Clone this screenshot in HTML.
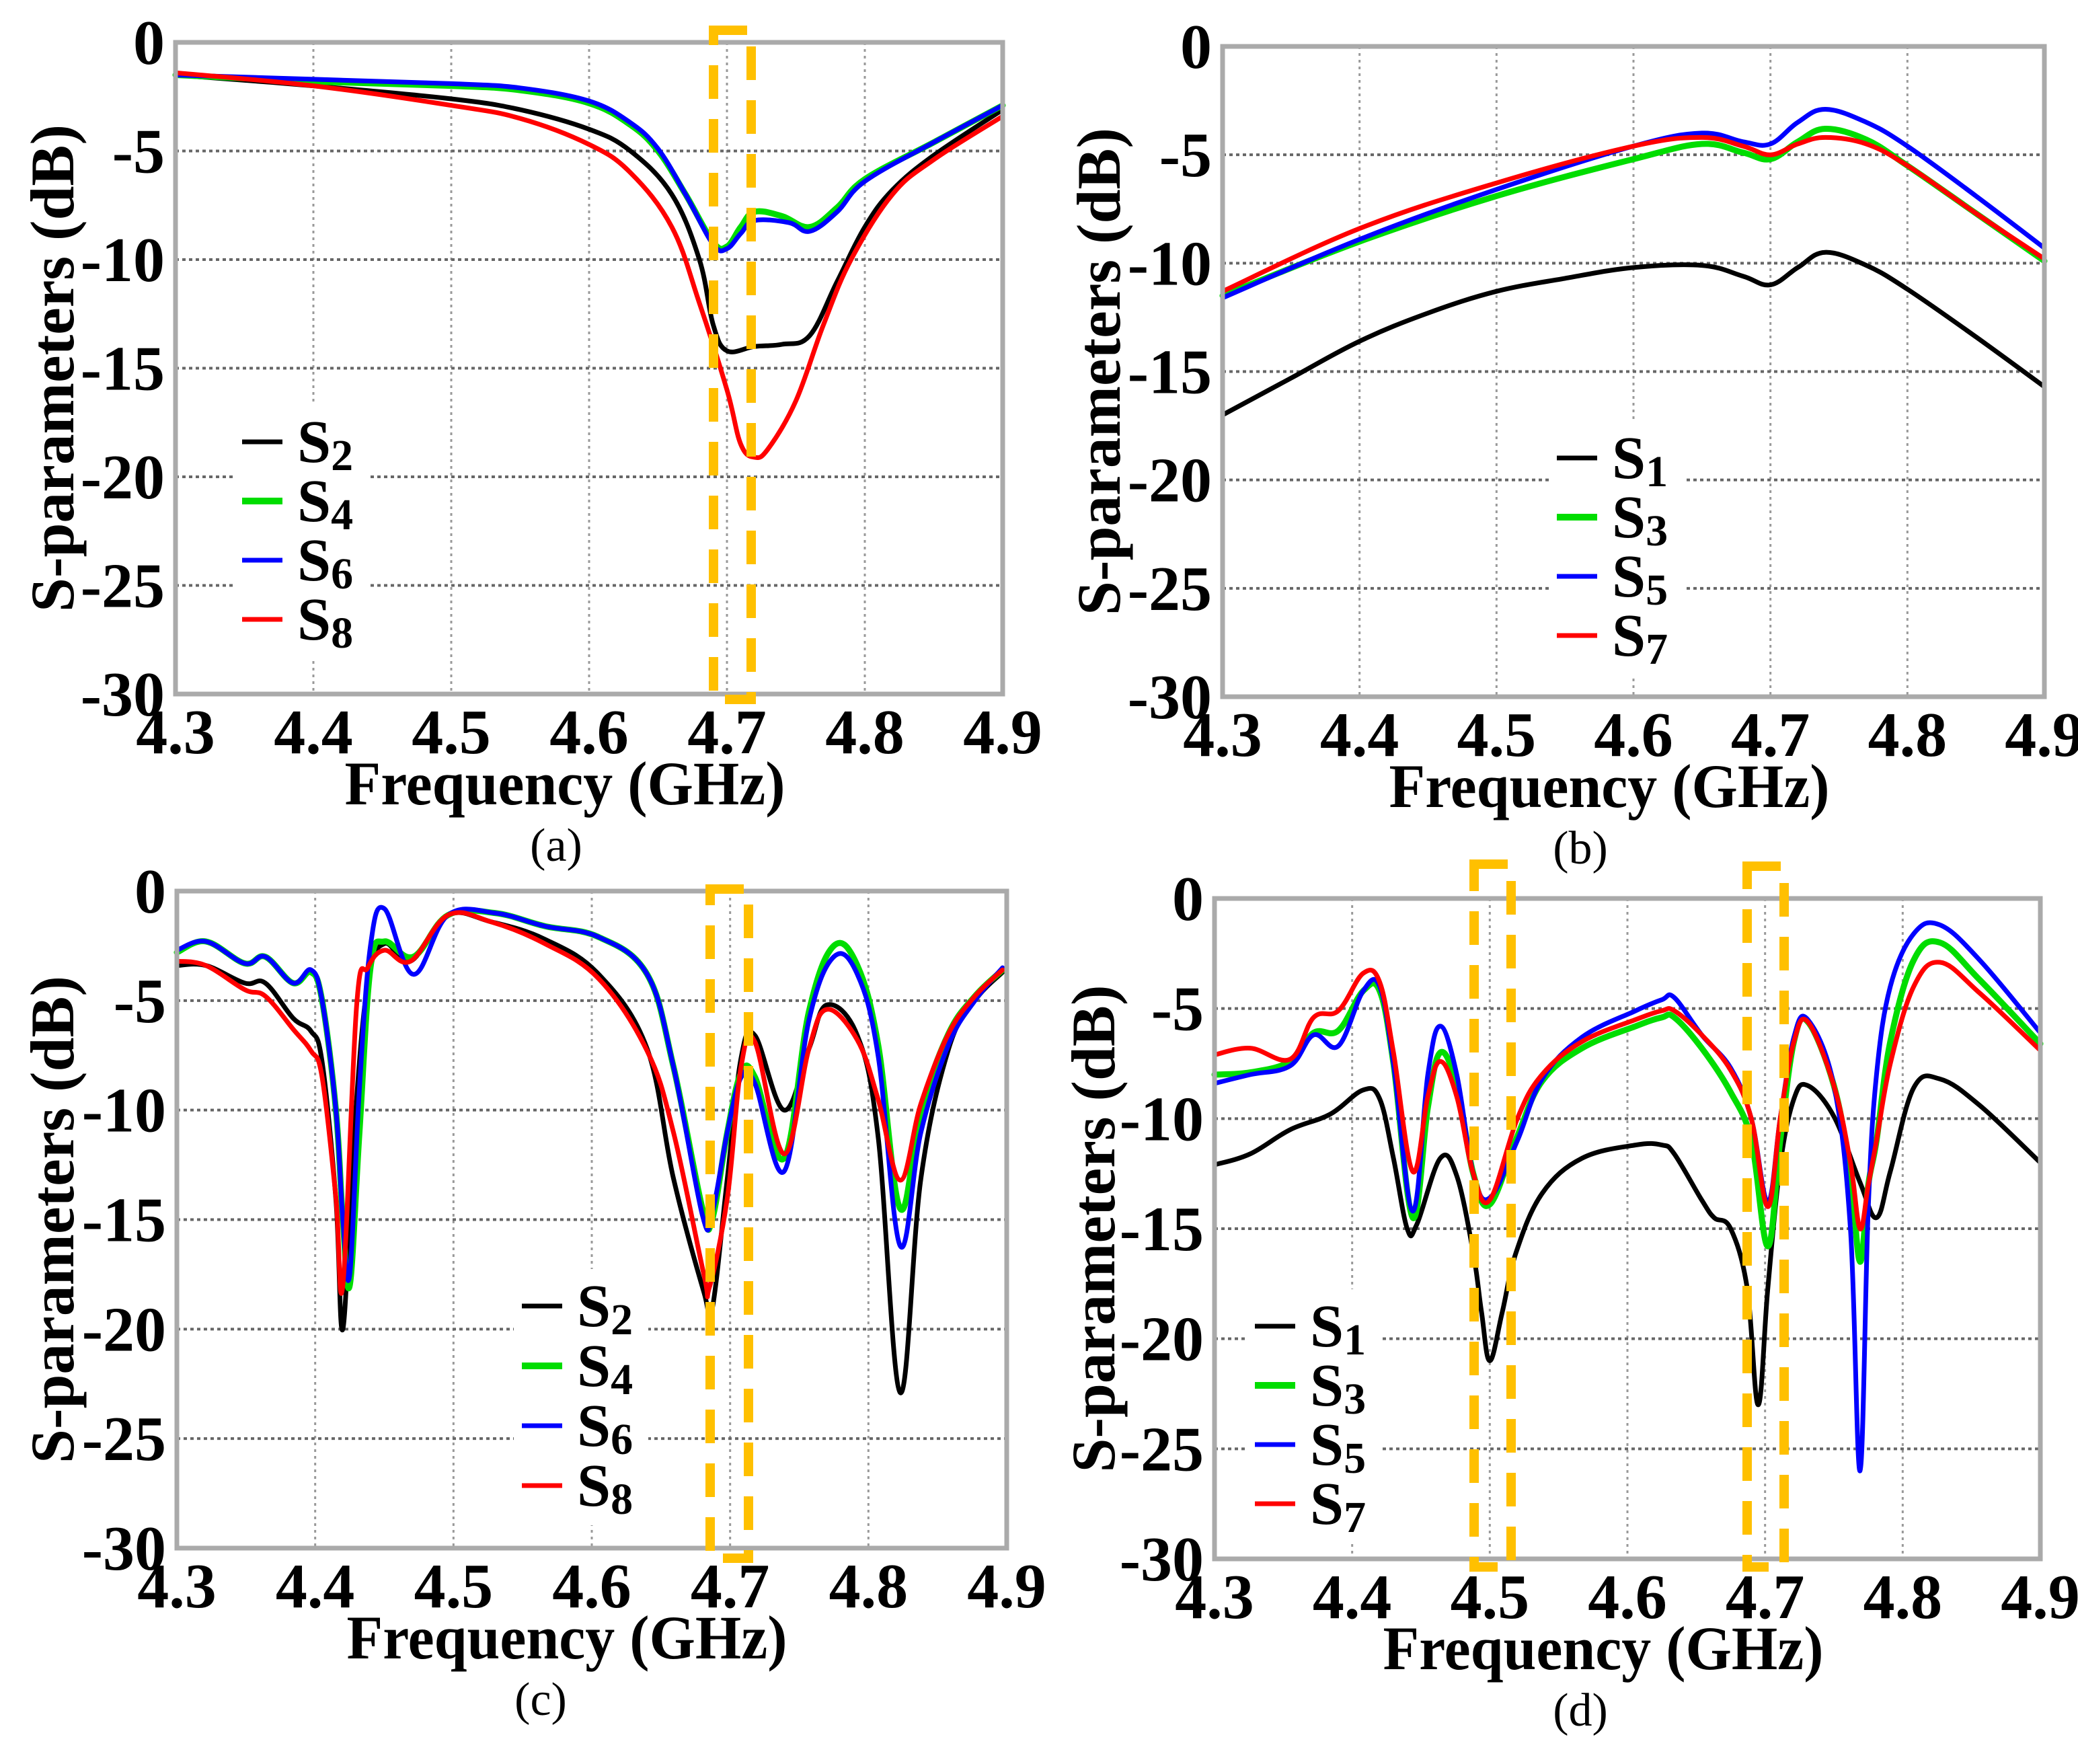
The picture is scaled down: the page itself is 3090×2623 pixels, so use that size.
<!DOCTYPE html>
<html><head><meta charset="utf-8"><style>
html,body{margin:0;padding:0;background:#fff;}
svg{display:block;}
text{font-family:"Liberation Serif",serif;}
</style></head><body>
<svg id="fig" width="3090" height="2623" viewBox="0 0 3090 2623" xmlns="http://www.w3.org/2000/svg"></svg>
<script>
// ---------- data ----------
const xTicks=[4.3,4.4,4.5,4.6,4.7,4.8,4.9];
const xTickLabels=["4.3","4.4","4.5","4.6","4.7","4.8","4.9"];
const yTicks=[0,-5,-10,-15,-20,-25,-30];
const yTickLabels=["0","-5","-10","-15","-20","-25","-30"];

// panel (a)
const aF2=[4.3,4.4,4.5,4.55,4.6,4.63,4.66,4.68,4.69,4.70,4.72,4.74,4.76,4.78,4.80,4.82,4.85,4.9];
const aS2=[-1.5,-2.0,-2.6,-3.1,-4.0,-5.0,-7,-10,-13,-14.2,-14.0,-13.9,-13.5,-11,-8.5,-6.8,-5.2,-3.1];
const aF4=[4.3,4.4,4.5,4.55,4.6,4.63,4.65,4.67,4.69,4.70,4.71,4.72,4.74,4.76,4.78,4.80,4.85,4.9];
const aS4=[-1.5,-1.8,-2.0,-2.2,-2.8,-3.8,-5,-7,-9.2,-9.4,-8.5,-7.8,-8.0,-8.5,-7.6,-6.3,-4.6,-2.9];
const aF6=[4.3,4.4,4.5,4.55,4.6,4.63,4.65,4.67,4.69,4.70,4.71,4.72,4.745,4.76,4.78,4.80,4.85,4.9];
const aS6=[-1.5,-1.7,-1.9,-2.1,-2.7,-3.7,-4.9,-7,-9.3,-9.5,-8.8,-8.2,-8.3,-8.7,-7.8,-6.4,-4.6,-2.9];
const aF8=[4.3,4.4,4.5,4.55,4.6,4.63,4.66,4.68,4.70,4.71,4.72,4.73,4.75,4.77,4.79,4.82,4.85,4.9];
const aS8=[-1.4,-2.0,-2.9,-3.5,-4.7,-6.0,-8.5,-12,-16,-18.5,-19.1,-18.7,-16.5,-13,-10,-7,-5.4,-3.4];

// panel (b)
const bF1=[4.3,4.35,4.4,4.45,4.5,4.55,4.6,4.65,4.68,4.7,4.72,4.74,4.77,4.8,4.85,4.9];
const bS1=[-17,-15.3,-13.6,-12.3,-11.3,-10.7,-10.2,-10.1,-10.6,-11.0,-10.2,-9.5,-10.1,-11.2,-13.4,-15.7];
const bF=[4.3,4.4,4.5,4.6,4.65,4.68,4.7,4.72,4.74,4.77,4.8,4.85,4.9];
const bS3=[-11.5,-9.0,-6.9,-5.2,-4.5,-4.9,-5.2,-4.4,-3.8,-4.3,-5.5,-7.7,-9.9];
const bS5=[-11.6,-8.9,-6.6,-4.6,-4.0,-4.4,-4.5,-3.5,-2.9,-3.5,-4.6,-6.9,-9.3];
const bS7=[-11.3,-8.4,-6.3,-4.6,-4.2,-4.6,-5.0,-4.5,-4.2,-4.5,-5.5,-7.7,-9.8];

// panel (c)
const cF2=[4.3,4.321,4.349,4.364,4.384,4.397,4.405,4.415,4.42,4.428,4.438,4.45,4.469,4.496,4.527,4.566,4.605,4.64,4.659,4.681,4.687,4.698,4.708,4.718,4.739,4.757,4.77,4.792,4.807,4.823,4.838,4.858,4.877,4.897];
const cS2=[-3.4,-3.4,-4.2,-4.2,-5.8,-6.4,-7.8,-14.1,-20,-11.2,-4.2,-2.4,-3.2,-1.1,-1.4,-2.2,-3.8,-7.2,-13.1,-18.3,-19.1,-13.1,-7.6,-6.6,-10,-7.2,-5.2,-6.6,-11.2,-22.9,-13.1,-7.2,-5,-3.7];
const cF8=[4.3,4.321,4.349,4.364,4.384,4.397,4.405,4.415,4.42,4.43,4.438,4.45,4.469,4.496,4.527,4.566,4.605,4.64,4.659,4.681,4.685,4.698,4.708,4.718,4.739,4.757,4.77,4.792,4.807,4.823,4.838,4.858,4.877,4.897];
const cS8=[-3.2,-3.4,-4.5,-4.8,-6.3,-7.3,-8.5,-14,-18,-5.2,-3.5,-2.7,-3.2,-1.1,-1.4,-2.4,-4.0,-7.3,-11,-17.5,-18.1,-14,-8,-6.9,-12,-7.2,-5.4,-6.8,-9.5,-13.2,-9.7,-6.5,-4.8,-3.6];
const cF=[4.3,4.321,4.349,4.364,4.384,4.397,4.405,4.415,4.42,4.425,4.432,4.44,4.45,4.471,4.496,4.53,4.566,4.605,4.64,4.659,4.68,4.687,4.698,4.708,4.718,4.739,4.757,4.775,4.792,4.807,4.823,4.838,4.858,4.877,4.897];
const cS4=[-2.8,-2.3,-3.3,-3.0,-4.2,-3.7,-5,-10,-15,-18,-11,-3.5,-2.3,-3.0,-1.1,-1.0,-1.6,-2.1,-3.8,-8,-14.5,-15,-11,-8.3,-8.5,-12.2,-5.5,-2.5,-3.4,-7,-14.5,-10,-6.5,-4.8,-3.6];
const cS6=[-2.7,-2.3,-3.3,-3.0,-4.2,-3.6,-5,-10,-15,-17.5,-9,-2.5,-0.8,-3.8,-1.1,-1.0,-1.6,-2.1,-3.8,-8,-14.8,-14.7,-11,-8.5,-8.8,-12.8,-5.9,-3.0,-3.8,-7.5,-16.2,-11,-7,-5,-3.5];

// panel (d)
const dF=[4.3,4.326,4.355,4.372,4.39,4.408,4.42,4.43,4.444,4.455,4.464,4.476,4.488,4.5,4.52,4.538,4.567,4.606,4.625,4.634,4.654,4.675,4.69,4.702,4.711,4.721,4.731,4.75,4.762,4.769,4.775,4.781,4.791,4.808,4.827,4.856,4.9];
const dS3=[-8.0,-7.9,-7.4,-6.1,-6.0,-4.2,-4.2,-7.5,-14.5,-9.5,-7,-8.5,-12.5,-13.9,-10.8,-8.3,-6.8,-5.8,-5.4,-5.4,-6.8,-8.8,-11,-15.8,-11,-6.5,-5.6,-8.5,-12.5,-16.5,-13,-11,-6.5,-2.8,-2.0,-3.7,-6.6];
const dS5=[-8.4,-8.0,-7.6,-6.2,-6.7,-4.2,-4.0,-7.5,-14.2,-8,-5.8,-8,-12.5,-13.6,-11,-8.2,-6.3,-5.1,-4.6,-4.5,-6.2,-7.7,-10,-13.8,-10,-6.3,-5.5,-8.5,-15,-26,-14,-8,-4,-1.6,-1.2,-2.8,-6.1];
const dS7=[-7.1,-6.8,-7.3,-5.4,-5.1,-3.4,-3.8,-7,-12.4,-9,-7.4,-9,-12.5,-13.7,-10,-8,-6.5,-5.5,-5.1,-5.1,-6.2,-7.8,-10,-14,-10,-6.5,-5.6,-8.5,-12,-15,-13,-11,-7.5,-4.0,-2.9,-4.3,-6.9];
const dF1=[4.3,4.326,4.355,4.384,4.408,4.42,4.43,4.44,4.447,4.464,4.476,4.488,4.494,4.5,4.509,4.519,4.538,4.567,4.606,4.625,4.634,4.654,4.663,4.675,4.687,4.695,4.702,4.711,4.721,4.731,4.75,4.769,4.781,4.791,4.808,4.827,4.856,4.9];
const dS1=[-12.1,-11.6,-10.5,-9.8,-8.7,-9.1,-11.8,-15.0,-14.8,-11.8,-12.6,-16.1,-18.8,-21,-18.8,-16.1,-13.4,-11.8,-11.2,-11.2,-11.6,-13.7,-14.5,-15,-17.7,-23,-17.7,-12.1,-9.1,-8.5,-9.9,-12.9,-14.5,-12.4,-8.6,-8.2,-9.4,-12];

// ---------- drawing ----------
const NS="http://www.w3.org/2000/svg";
const svg=document.getElementById('fig');
function mk(tag,attrs,parent){const e=document.createElementNS(NS,tag);for(const k in attrs)e.setAttribute(k,attrs[k]);(parent||svg).appendChild(e);return e;}
const COL={k:"#000",g:"#00dd00",b:"#0000ff",r:"#ff0000"};

function smoothPath(pts){
  let d='M'+pts[0][0].toFixed(1)+','+pts[0][1].toFixed(1);
  for(let i=0;i<pts.length-1;i++){
    const p0=pts[Math.max(0,i-1)],p1=pts[i],p2=pts[i+1],p3=pts[Math.min(pts.length-1,i+2)];
    const t=0.18;
    const c1=[p1[0]+(p2[0]-p0[0])*t,p1[1]+(p2[1]-p0[1])*t];
    const c2=[p2[0]-(p3[0]-p1[0])*t,p2[1]-(p3[1]-p1[1])*t];
    d+='C'+c1[0].toFixed(1)+','+c1[1].toFixed(1)+' '+c2[0].toFixed(1)+','+c2[1].toFixed(1)+' '+p2[0].toFixed(1)+','+p2[1].toFixed(1);
  }
  return d;
}

function panel(P){
  const g=mk('g',{});
  
  
  const xs=f=>P.L+(f-4.3)/0.6*(P.R-P.L);
  const ys=v=>P.T+(-v)/30*(P.B-P.T);
  for(let i=1;i<xTicks.length-1;i++){
    const l=mk('line',{x1:xs(xTicks[i]),x2:xs(xTicks[i]),y1:P.T,y2:P.B,stroke:"#999","stroke-width":3,"stroke-dasharray":"4 6"},g);
    
    
  }
  for(let i=1;i<yTicks.length-1;i++){
    const l=mk('line',{x1:P.L,x2:P.R,y1:ys(yTicks[i]),y2:ys(yTicks[i]),stroke:"#666","stroke-width":4,"stroke-dasharray":"5 5"},g);
    
    
  }
  const lb=mk('rect',{x:P.leg.x-12,y:P.leg.y-55,width:P.leg.w,height:P.leg.dy*4+25,fill:"#fff"},g);
  
  
  P.series.forEach(s=>{
    const pts=s.f.map((f,i)=>[xs(f),ys(s.v[i])]);
    const p=mk('path',{d:smoothPath(pts),fill:"none",stroke:COL[s.c],"stroke-width":s.c==='g'?9:7,"stroke-linejoin":"round","stroke-linecap":"round"},g);
    
    
  });
  const fr=mk('rect',{x:P.L,y:P.T,width:P.R-P.L,height:P.B-P.T,fill:"none",stroke:"#aaa","stroke-width":7},g);
  
  
  xTicks.forEach((t,i)=>{
    const e=mk('text',{x:xs(t),y:P.B+88,"text-anchor":"middle","font-size":94,"font-weight":"bold"},g);
    e.textContent=xTickLabels[i];
    
    
  });
  yTicks.forEach((t,i)=>{
    const e=mk('text',{x:P.L-16,y:ys(t)+32,"text-anchor":"end","font-size":94,"font-weight":"bold"},g);
    e.textContent=yTickLabels[i];
    
    
  });
  const xt=mk('text',{x:P.xtx,y:P.B+164,"text-anchor":"middle","font-size":92,"font-weight":"bold",textLength:655,lengthAdjust:"spacingAndGlyphs"},g);
  xt.textContent="Frequency (GHz)";
  
  
  const cy=(P.T+P.B)/2;
  const yt=mk('text',{x:0,y:0,transform:`translate(${P.ytx+30},${cy}) rotate(-90)`,"text-anchor":"middle","font-size":92,"font-weight":"bold",textLength:725,lengthAdjust:"spacingAndGlyphs"},g);
  yt.textContent="S-parameters (dB)";
  
  
  const sl=mk('text',{x:P.sub,y:P.B+248,"text-anchor":"middle","font-size":70},g);
  sl.textContent="("+P.id+")";
  
  
  P.series.forEach((s,i)=>{
    const yy=P.leg.y+i*P.leg.dy;
    const ln=mk('line',{x1:P.leg.x,x2:P.leg.x+60,y1:yy,y2:yy,stroke:COL[s.c],"stroke-width":s.c==='g'?10:7},g);
    
    
    const tx=mk('text',{x:P.leg.x+82,y:yy+30,"font-size":90,"font-weight":"bold"},g);
    
    
    const t1=mk('tspan',{},tx);t1.textContent="S";
    const t2=mk('tspan',{"font-size":66,dy:12},tx);t2.textContent=s.name.slice(1);
  });
  P.boxes.forEach(b=>{
    const r=mk('rect',{x:b[0],y:b[1],width:b[2],height:b[3],fill:"none",stroke:"#ffc000","stroke-width":14,"stroke-dasharray":"50 30"},g);
    
    
  });
}

panel({id:'a',L:261,R:1491,T:63,B:1032,xtx:840,ytx:79,sub:827,
  leg:{x:360,y:657,dy:88,w:200},
  boxes:[[1061,45,56,995]],
  series:[{name:'S2',c:'k',f:aF2,v:aS2},{name:'S4',c:'g',f:aF4,v:aS4},{name:'S6',c:'b',f:aF6,v:aS6},{name:'S8',c:'r',f:aF8,v:aS8}]});
panel({id:'b',L:1818,R:3040,T:69,B:1036,xtx:2393,ytx:1635,sub:2350,
  leg:{x:2315,y:681,dy:88,w:200},
  boxes:[],
  series:[{name:'S1',c:'k',f:bF1,v:bS1},{name:'S3',c:'g',f:bF,v:bS3},{name:'S5',c:'b',f:bF,v:bS5},{name:'S7',c:'r',f:bF,v:bS7}]});
panel({id:'c',L:263,R:1497,T:1325,B:2302,xtx:843,ytx:79,sub:804,
  leg:{x:776,y:1942,dy:89,w:200},
  boxes:[[1056,1322,57,995]],
  series:[{name:'S2',c:'k',f:cF2,v:cS2},{name:'S4',c:'g',f:cF,v:cS4},{name:'S6',c:'b',f:cF,v:cS6},{name:'S8',c:'r',f:cF8,v:cS8}]});
panel({id:'d',L:1806,R:3034,T:1336,B:2318,xtx:2384,ytx:1627,sub:2350,
  leg:{x:1866,y:1972,dy:88,w:200},
  boxes:[[2192,1285,55,1045],[2598,1288,55,1042]],
  series:[{name:'S1',c:'k',f:dF1,v:dS1},{name:'S3',c:'g',f:dF,v:dS3},{name:'S5',c:'b',f:dF,v:dS5},{name:'S7',c:'r',f:dF,v:dS7}]});
</script>
</body></html>
